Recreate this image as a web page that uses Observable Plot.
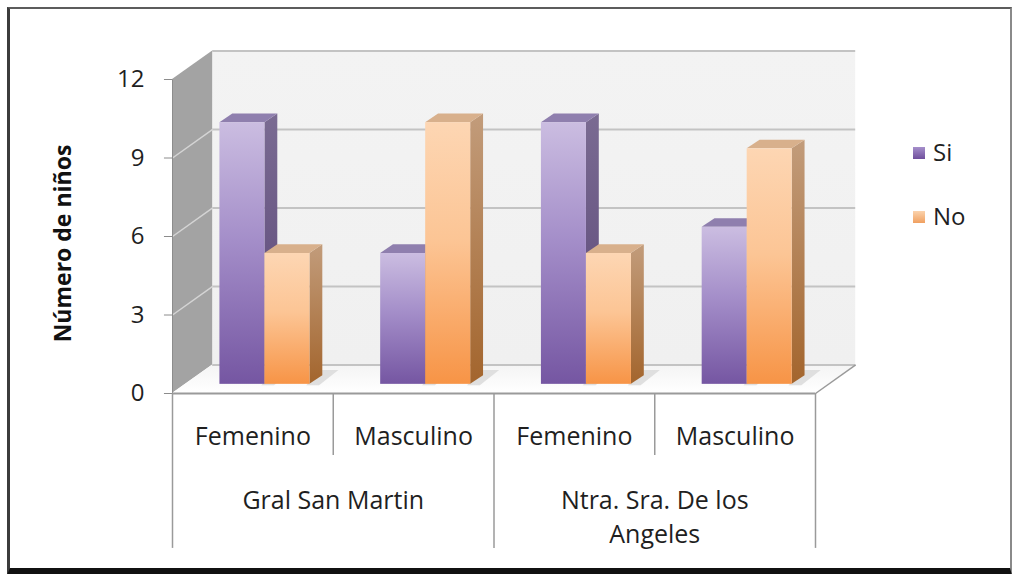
<!DOCTYPE html>
<html>
<head>
<meta charset="utf-8">
<script src="https://cdn.jsdelivr.net/npm/d3@7"></script>
<script src="https://cdn.jsdelivr.net/npm/@observablehq/plot@0.6"></script>
<style>
  html, body { margin: 0; padding: 0; background: #fff; width: 1013px; height: 574px; overflow: hidden; }
  #frame { position: absolute; left: 7px; top: 7px; width: 1000px; height: 559px;
    border-top: 2px solid #5c5c5c; border-left: 3px solid #3c3c3c; border-right: 2px solid #8a8a8a;
    border-bottom: 7px solid #111; }
  #chart { position: absolute; left: 0; top: 0; }
  .leg { position: absolute; font-family: "Open Sans", Lato, sans-serif; font-size: 24px; color: #1f1f1f; line-height: 30px; }
  .sw { position: absolute; width: 12px; height: 12px; }
</style>
</head>
<body>
<div id="frame"></div>
<div id="chart"></div>
<div class="sw" style="left:913px;top:147px;background:linear-gradient(#a58fcb,#6f4f9c);"></div>
<div class="leg" style="left:933px;top:137px;">Si</div>
<div class="sw" style="left:913px;top:211px;background:linear-gradient(#fbd3ad,#f0a060);"></div>
<div class="leg" style="left:933px;top:201px;">No</div>
<script>
// ---- data ----
const groups = ["Gral San Martin", "Ntra. Sra. De los\nAngeles"];
const sexes = ["Femenino", "Masculino"];
const series = ["Si", "No"];
const siValues = [10, 5, 10, 6];
const noValues = [5, 10, 5, 9];
const yTicks = [0, 3, 6, 9, 12];
const yTitle = "Número de niños";

// ---- layout constants (scale units) ----
const dX = 0.25, dY = 1.09;        // wall depth
const base = 0.35, bdx = 0.08, bdy = 0.33; // bar plane and bar depth
const off = 0.295, bw = 0.28;     // bar offset and width within a category

const cats = [];
groups.forEach((g, gi) => sexes.forEach((s, si) => cats.push({i: gi * 2 + si, sex: s, group: g})));

const bars = [];
cats.forEach(c => series.forEach((ser, j) => {
  const v = (j === 0 ? siValues : noValues)[c.i];
  const x1 = c.i + off + j * bw;
  bars.push({key: c.i + "-" + j, series: ser, v, x1, x2: x1 + bw});
}));
const sides = bars.flatMap(b => [
  {key: b.key, series: b.series, x: b.x2, y1: base, y2: base + b.v},
  {key: b.key, series: b.series, x: b.x2 + bdx, y1: base + bdy, y2: base + b.v + bdy}
]);
const tops = bars.flatMap(b => [
  {key: b.key, series: b.series, y: base + b.v, x1: b.x1, x2: b.x2},
  {key: b.key, series: b.series, y: base + b.v + bdy, x1: b.x1 + bdx, x2: b.x2 + bdx}
]);
const nCat = cats.length;
const sideWall = [{x: 0, y1: 0, y2: 12}, {x: dX, y1: dY, y2: 12 + dY}];
const floor = [{y: 0, x1: 0, x2: nCat}, {y: dY, x1: dX, x2: nCat + dX}];
const groupCenters = groups.map((g, gi) => ({x: gi * 2 + 1, label: g}));

const font = "'Open Sans', Lato, sans-serif";
const txt = "#1f1f1f";

const plot = Plot.plot({
  width: 1013, height: 574,
  marginLeft: 172, marginRight: 198, marginTop: 79, marginBottom: 181,
  x: {type: "linear", domain: [0, nCat], axis: null},
  y: {type: "linear", domain: [0, 12], axis: null},
  style: {background: "transparent", fontFamily: font, overflow: "visible"},
  marks: [
    // back wall
    Plot.rect([0], {x1: () => dX, x2: () => nCat + dX, y1: () => dY, y2: () => 12 + dY, fill: "url(#backWall)"}),
    // side wall
    Plot.areaY(sideWall, {x: "x", y1: "y1", y2: "y2", fill: "#a3a3a3"}),
    // floor
    Plot.areaX(floor, {y: "y", x1: "x1", x2: "x2", fill: "url(#floorG)"}),
    // gridlines on back wall
    Plot.ruleY(yTicks, {y: d => d + dY, x1: () => dX, x2: () => nCat + dX, stroke: "#c3c3c3", strokeWidth: 2}),
    // gridlines on side wall
    Plot.link(yTicks.filter(d => d > 0 && d < 12), {x1: () => 0, y1: d => d, x2: () => dX, y2: d => d + dY, stroke: "#d4d4d4", strokeWidth: 1.5}),
    // floor right edge
    Plot.link([0], {x1: () => nCat, y1: () => 0, x2: () => nCat + dX, y2: () => dY, stroke: "#9a9a9a", strokeWidth: 1.5}),
    // bar shadows on floor
    Plot.areaX(bars.flatMap(b => [
      {key: b.key, y: base - 0.05, x1: b.x2 - 0.02, x2: b.x2 + 0.06},
      {key: b.key, y: base + bdy + 0.2, x1: b.x2 + bdx, x2: b.x2 + bdx + 0.1}
    ]), {y: "y", x1: "x1", x2: "x2", z: "key", fill: "#d8d8d8", fillOpacity: 0.8}),
    // bar side faces
    Plot.areaY(sides.filter(d => d.series === "Si"), {x: "x", y1: "y1", y2: "y2", z: "key", fill: "url(#siSide)"}),
    Plot.areaY(sides.filter(d => d.series === "No"), {x: "x", y1: "y1", y2: "y2", z: "key", fill: "url(#noSide)"}),
    // bar top faces
    Plot.areaX(tops.filter(d => d.series === "Si"), {y: "y", x1: "x1", x2: "x2", z: "key", fill: "#8f7fae"}),
    Plot.areaX(tops.filter(d => d.series === "No"), {y: "y", x1: "x1", x2: "x2", z: "key", fill: "#d8b08c"}),
    // bar front faces
    Plot.rect(bars.filter(d => d.series === "Si"), {x1: "x1", x2: "x2", y1: () => base, y2: d => base + d.v, fill: "url(#siFront)"}),
    Plot.rect(bars.filter(d => d.series === "No"), {x1: "x1", x2: "x2", y1: () => base, y2: d => base + d.v, fill: "url(#noFront)"}),
    // y axis: tick marks and labels
    Plot.link([0], {x1: () => 0, y1: () => 0, x2: () => 0, y2: () => 12, stroke: "#8c8c8c", strokeWidth: 1}),
    Plot.ruleY(yTicks, {y: d => d, x1: () => -0.05, x2: () => 0, stroke: "#8c8c8c"}),
    Plot.text(yTicks, {x: () => 0, y: d => d, text: d => String(d), dx: -28, textAnchor: "end", fontSize: 24, fill: txt}),
    // category axis line and separators
    Plot.ruleY([0], {x1: () => 0, x2: () => nCat, stroke: "#9a9a9a", strokeWidth: 2}),
    Plot.ruleX(d3.range(nCat + 1), {x: d => d, y1: () => 0, y2: d => (d % 2 === 0 ? -5.92 : -2.37), stroke: "#9a9a9a", strokeWidth: 1.5}),
    Plot.text(cats, {x: d => d.i + 0.5, y: () => 0, text: "sex", dy: 43, fontSize: 25, fill: txt}),
    Plot.text(groupCenters, {x: "x", y: () => 0, text: "label", dy: 91, lineAnchor: "top", lineHeight: 1.36, textAnchor: "middle", fontSize: 25, fill: txt}),
    // y title
    Plot.text([yTitle], {x: () => 0, y: () => 6, text: d => d, dx: -109, dy: 7, rotate: -90, fontSize: 23, fontWeight: "bold", fill: "#111"})
  ]
});

const svg = d3.select(plot);
const defs = svg.insert("defs", ":first-child");
function grad(id, stops, horiz) {
  const g = defs.append("linearGradient").attr("id", id)
    .attr("x1", 0).attr("y1", 0).attr("x2", horiz ? 1 : 0).attr("y2", horiz ? 0 : 1);
  stops.forEach(([o, c]) => g.append("stop").attr("offset", o).attr("stop-color", c));
}
grad("siFront", [[0, "#cbbde1"], [0.45, "#a48ec9"], [1, "#7556a2"]]);
grad("noFront", [[0, "#fdd6b3"], [0.45, "#fcc595"], [1, "#f79446"]]);
grad("siSide", [[0, "#7a6b92"], [1, "#5a4577"]]);
grad("noSide", [[0, "#c29c7b"], [1, "#a3652d"]]);
grad("backWall", [[0, "#f3f3f3"], [1, "#f0f0f0"]]);
grad("floorG", [[0, "#f4f4f4"], [1, "#ffffff"]]);

document.getElementById("chart").appendChild(plot);
</script>
</body>
</html>
